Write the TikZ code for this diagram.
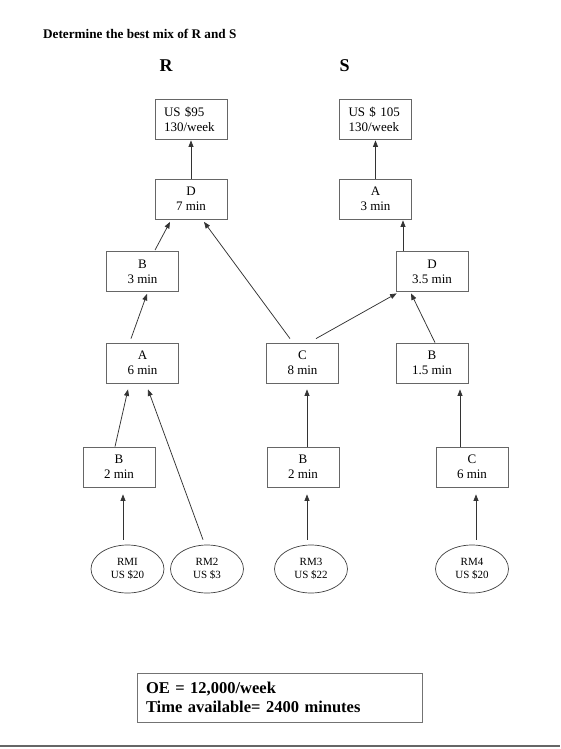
\documentclass[tikz,border=0pt]{standalone}
\usepackage{fontspec}
\setmainfont{Liberation Serif}
\usetikzlibrary{arrows.meta,shapes.geometric}
\tikzset{
  pbox/.style={draw=black!60, line width=0.8pt, minimum width=72pt, minimum height=40pt,
    inner sep=0pt, align=center, font=\fontsize{13}{15}\selectfont},
  pboxl/.style={pbox, align=left, text width=54pt, inner xsep=9pt},
  rm/.style={draw=black!75, line width=0.7pt, ellipse, minimum width=73pt, minimum height=48pt,
    inner sep=0pt, align=center, font=\fontsize{11}{12.5}\selectfont},
  arr/.style={draw=black!80, line width=0.75pt, -{Triangle[length=6.5pt,width=5pt]}},
}
\begin{document}
\begin{tikzpicture}[x=1pt,y=-1pt]
\useasboundingbox (0,0) rectangle (560,749);
\node[anchor=base west, inner sep=0pt, font=\fontsize{13.2}{15}\selectfont\bfseries] (title) at (43,38.5) {Determine the best mix of R and S};
\node[anchor=base, font=\fontsize{18}{20}\selectfont\bfseries] (hr) at (166,72) {R};
\node[anchor=base, font=\fontsize{18}{20}\selectfont\bfseries] (hs) at (344.5,72) {S};

\node[pboxl] (us95) at (191,119) {US \$95\\130/week};
\node[pbox] (d7) at (191,199) {D\\7 min};
\node[pboxl] (us105) at (375.5,119) {US \$ 105\\130/week};
\node[pbox] (a3) at (375.5,199) {A\\3 min};
\node[pbox] (b3) at (142.5,271.5) {B\\3 min};
\node[pbox] (d35) at (432,271.5) {D\\3.5 min};
\node[pbox] (a6) at (142.5,363) {A\\6 min};
\node[pbox] (c8) at (302.5,363) {C\\8 min};
\node[pbox] (b15) at (432,363) {B\\1.5 min};
\node[pbox] (b2a) at (119,467) {B\\2 min};
\node[pbox] (b2b) at (303,467) {B\\2 min};
\node[pbox] (c6) at (472,467) {C\\6 min};
\node[rm] (rm1) at (127.5,569) {RMI\\US \$20};
\node[rm] (rm2) at (207,569) {RM2\\US \$3};
\node[rm] (rm3) at (311,569) {RM3\\US \$22};
\node[rm] (rm4) at (472,569) {RM4\\US \$20};

\draw[arr] (d7.north) -- ([yshift=-1pt]us95.south);
\draw[arr] (a3.north) -- ([yshift=-1pt]us105.south);
\draw[arr] ([xshift=12.5pt,yshift=1pt]b3.north) -- ([xshift=-21pt,yshift=-2.5pt]d7.south);
\draw[arr] ([xshift=-12.5pt,yshift=4pt]c8.north) -- ([xshift=13pt,yshift=-2.5pt]d7.south);
\draw[arr] ([xshift=13.5pt,yshift=4pt]c8.north) -- ([xshift=1pt,yshift=-1.5pt]d35.south west);
\draw[arr] ([xshift=3pt,yshift=0pt]b15.north) -- ([xshift=-21pt,yshift=-1.5pt]d35.south);
\draw[arr] ([xshift=-29pt]d35.north) -- ([xshift=27.5pt,yshift=-1pt]a3.south);
\draw[arr] ([xshift=-11.5pt,yshift=4pt]a6.north) -- ([xshift=4.5pt,yshift=-2pt]b3.south);
\draw[arr] ([xshift=-4pt]b2a.north) -- ([xshift=-14.5pt,yshift=-6pt]a6.south);
\draw[arr] ([xshift=-4pt,yshift=5pt]rm2.north) -- ([xshift=5.5pt,yshift=-6pt]a6.south);
\draw[arr] ([xshift=4pt]b2b.north) -- ([xshift=4.5pt,yshift=-6pt]c8.south);
\draw[arr] ([xshift=-12pt]c6.north) -- ([xshift=28pt,yshift=-6pt]b15.south);
\draw[arr] ([xshift=-4.5pt,yshift=5pt]rm1.north) -- ([xshift=4pt,yshift=-7pt]b2a.south);
\draw[arr] ([xshift=-4pt,yshift=5pt]rm3.north) -- ([xshift=4pt,yshift=-7pt]b2b.south);
\draw[arr] ([xshift=4pt,yshift=5pt]rm4.north) -- ([xshift=4pt,yshift=-7pt]c6.south);

\node[draw=black!55, line width=1pt, minimum width=285pt, minimum height=49pt, inner ysep=0pt,
  inner xsep=9pt, text width=267pt, align=left, font=\fontsize{16.5}{19}\selectfont\bfseries]
  (oe) at (279.5,697.5) {OE = 12,000/week\\Time available= 2400 minutes};
\coordinate (rl) at (0,746);
\coordinate (rr) at (560,746);
\draw[black!60, line width=1.2pt] (rl) -- (rr);
\end{tikzpicture}
\end{document}
